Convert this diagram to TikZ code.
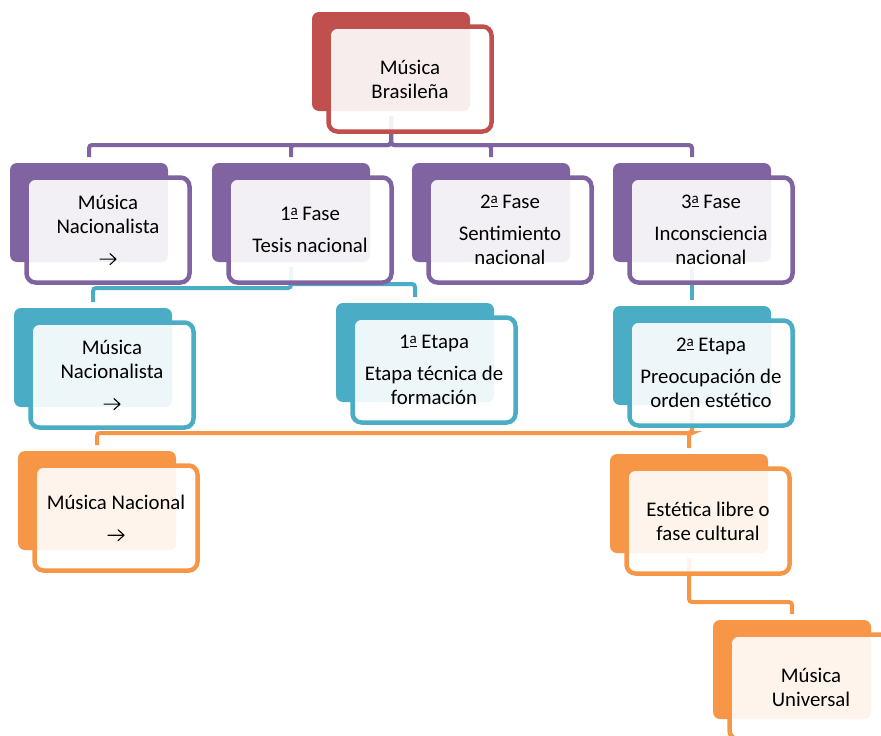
\documentclass[tikz,border=0pt]{standalone}
\usepackage{fontspec}
\setmainfont{Carlito}
\definecolor{cred}{HTML}{C0504D}
\definecolor{cpur}{HTML}{8064A2}
\definecolor{ccya}{HTML}{4BACC6}
\definecolor{cora}{HTML}{F79646}
\tikzset{
 backbox/.style={rounded corners=7pt, minimum width=158pt, minimum height=99pt, inner sep=0pt, outer sep=0pt},
 frontbox/.style={rounded corners=9pt, minimum width=163pt, minimum height=105pt, inner sep=0pt, outer sep=0pt, line width=4.5pt, fill=white, fill opacity=0.9, text opacity=1, align=center, font=\fontsize{20.8}{24}\selectfont, text=black},
 conn/.style={line width=4pt, rounded corners=3pt},
}
\newcommand\arr{\tikz[baseline=-6pt,x=1pt,y=1pt]\draw[black,line width=1.1pt,line cap=round,line join=round,rounded corners=0pt] (0,0) -- (16,0) (10,5.5) -- (16,0) -- (10,-5.5);}
\newsavebox\ordbox
\newcommand\ordfem{\sbox\ordbox{\fontsize{15}{15}\selectfont a}\rlap{\rule[1.8pt]{\wd\ordbox}{1.2pt}}\raisebox{5.2pt}{\usebox\ordbox}}
\begin{document}
\begin{tikzpicture}[x=1pt,y=-1pt]
\useasboundingbox (0,0) rectangle (881,736);
\clip (0,0) rectangle (881,736);
% back boxes
\node[backbox,fill=cred] (Tb) at (391,61.5) {};
\node[backbox,fill=cpur] (P1b) at (89,212.5) {};
\node[backbox,fill=cpur] (P2b) at (291,212.5) {};
\node[backbox,fill=cpur] (P3b) at (491,212.5) {};
\node[backbox,fill=cpur] (P4b) at (692,212.5) {};
\node[backbox,fill=ccya] (C1b) at (93,357.5) {};
\node[backbox,fill=ccya] (C2b) at (415,352.5) {};
\node[backbox,fill=ccya] (C3b) at (692,355.5) {};
\node[backbox,fill=cora] (O1b) at (97,500.5) {};
\node[backbox,fill=cora] (O2b) at (689,503.5) {};
\node[backbox,fill=cora] (O3b) at (792,669.5) {};
% elbow levels
\coordinate (mp) at (0,145);
\coordinate (mc1) at (0,288);
\coordinate (mc2) at (0,284);
\coordinate (mo) at (0,433);
\coordinate (mu) at (0,602);
% connectors
\foreach \c in {P1b,P2b,P3b,P4b}
  \draw[conn,cpur] ([yshift=-5pt]Tb.south) -- (Tb.south |- mp) -| ([yshift=6pt]\c.north);
\draw[conn,ccya] ([yshift=-5pt]P2b.south) -- (P2b.south |- mc1) -| ([yshift=6pt]C1b.north);
\draw[conn,ccya] ([yshift=-5pt]P2b.south) -- (P2b.south |- mc2) -| ([yshift=6pt]C2b.north);
\draw[conn,ccya] ([yshift=-5pt]P4b.south) -- ([yshift=6pt]C3b.north);
\draw[conn,cora] ([yshift=-5pt]C3b.south) -- (C3b.south |- mo) -| ([yshift=6pt]O1b.north);
\draw[conn,cora] ([yshift=-5pt]C3b.south) -- (C3b.south |- mo) -| ([yshift=6pt]O2b.north);
\draw[conn,cora] ([yshift=-5pt]O2b.south) -- (O2b.south |- mu) -| ([yshift=6pt]O3b.north);
% front boxes
\node[frontbox,draw=cred] (T) at (410,79) {Música\\Brasileña};
\node[frontbox,draw=cpur] (P1) at (108,230) {Música\\Nacionalista\\[8pt]\arr};
\node[frontbox,draw=cpur] (P2) at (310,230) {1\ordfem{} Fase\\[8pt]Tesis nacional};
\node[frontbox,draw=cpur] (P3) at (510,230) {2\ordfem{} Fase\\[8pt]Sentimiento\\nacional};
\node[frontbox,draw=cpur] (P4) at (711,230) {3\ordfem{} Fase\\[8pt]Inconsciencia\\nacional};
\node[frontbox,draw=ccya] (C1) at (112,375) {Música\\Nacionalista\\[8pt]\arr};
\node[frontbox,draw=ccya] (C2) at (434,370) {1\ordfem{} Etapa\\[8pt]Etapa técnica de\\formación};
\node[frontbox,draw=ccya] (C3) at (711,373) {2\ordfem{} Etapa\\[8pt]Preocupación de\\orden estético};
\node[frontbox,draw=cora] (O1) at (116,518) {Música Nacional\\[8pt]\arr};
\node[frontbox,draw=cora] (O2) at (708,521) {Estética libre o\\fase cultural};
\node[frontbox,draw=cora] (O3) at (811,687) {Música\\Universal};
\end{tikzpicture}
\end{document}
